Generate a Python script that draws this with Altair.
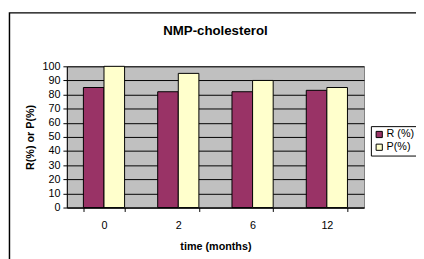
import altair as alt
import pandas as pd

times = ["0", "2", "6", "12"]
r_vals = [85, 82, 82, 83]
p_vals = [100, 95, 90, 85]
series = ["R (%)", "P(%)"]
colors = ["#993366", "#FFFFCC"]
chart_title = "NMP-cholesterol"

rows = []
for t, r, p in zip(times, r_vals, p_vals):
    rows.append({"time": t, "series": series[0], "value": r})
    rows.append({"time": t, "series": series[1], "value": p})
df = pd.DataFrame(rows)

FONT = "Liberation Sans"

bars = alt.Chart(df).mark_bar(stroke="black", strokeWidth=1).encode(
    x=alt.X("time:N", sort=times, title="time (months)",
            scale=alt.Scale(paddingInner=0.4455, paddingOuter=0.2228),
            axis=alt.Axis(labelAngle=0, tickBand="extent", tickSize=4,
                          labelPadding=8, titlePadding=11, domainColor="black",
                          tickColor="black", labelColor="black", titleColor="black",
                          labelFont=FONT, titleFont=FONT, labelFontSize=11,
                          titleFontSize=11, titleFontWeight="bold", grid=False)),
    xOffset=alt.XOffset("series:N", sort=series, scale=alt.Scale(paddingInner=0, paddingOuter=0)),
    y=alt.Y("value:Q", title="R(%) or P(%)",
            scale=alt.Scale(domain=[0, 100], nice=False),
            axis=alt.Axis(values=list(range(0, 101, 10)), tickSize=4, labelPadding=3,
                          titlePadding=7, domainColor="black", tickColor="black",
                          labelColor="black", titleColor="black", labelFont=FONT,
                          titleFont=FONT, labelFontSize=11, titleFontSize=11,
                          titleFontWeight="bold", grid=True, gridColor="black",
                          gridOpacity=1, gridWidth=1)),
    color=alt.Color("series:N", sort=series,
                    scale=alt.Scale(domain=series, range=colors),
                    legend=alt.Legend(title=None, orient="none", legendX=310, legendY=61,
                                      symbolType="square", symbolSize=40,
                                      symbolStrokeColor="black", symbolStrokeWidth=1,
                                      labelFont=FONT, labelFontSize=11, labelColor="black",
                                      strokeColor="black", fillColor="white",
                                      padding=3, rowPadding=1, labelOffset=2)),
)

title_df = pd.DataFrame({"label": [chart_title]})
title = alt.Chart(title_df).mark_text(
    font=FONT, fontSize=13.5, fontWeight="bold", color="black",
    align="center", baseline="middle"
).encode(text="label:N", x=alt.value(151.5), y=alt.value(-36))

border = alt.Chart(alt.Data(values=[{"a": 1}])).mark_rect(
    fill=None, stroke="black", strokeWidth=1.5
).encode(
    x=alt.value(-58.5), x2=alt.value(420), y=alt.value(-54.5), y2=alt.value(300)
)

chart = alt.layer(bars, title, border).properties(
    width=303, height=144,
    autosize=alt.AutoSizeParams(type="none"),
    padding={"left": 60, "top": 57, "right": 53, "bottom": 50},
    background="white",
).configure_view(fill="#C0C0C0", stroke="#808080", strokeWidth=1)

chart.save("out.html", embed_options={"renderer": "svg", "actions": False})
